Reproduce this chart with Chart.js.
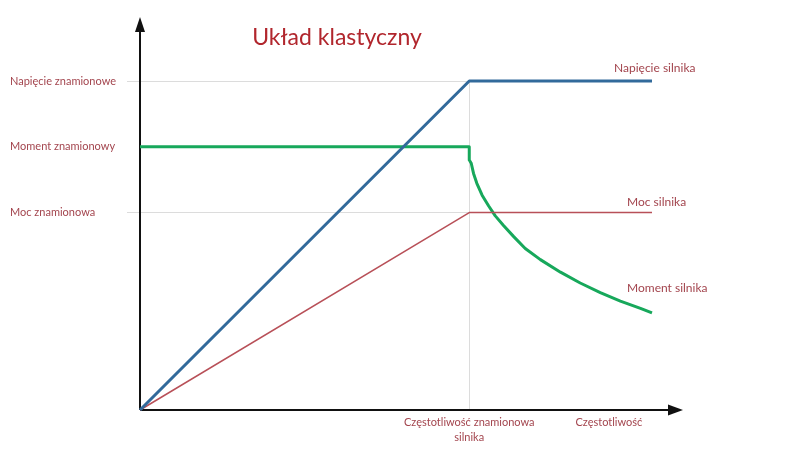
<!DOCTYPE html>
<html>
<head>
<meta charset="utf-8">
<script src="https://cdn.jsdelivr.net/npm/chart.js@4"></script>
<style>
  html, body { margin: 0; padding: 0; background: #fff; }
  #wrap { width: 800px; height: 475px; }
</style>
</head>
<body>
<div id="wrap"><canvas id="chart"></canvas></div>
<script>
'use strict';

// frequency axis (1 = rated frequency)
const freq = [0, 1, 1.555];
const voltage = [0, 1, 1];
const power = [0, 0.6, 0.6];

// torque: flat up to rated frequency, then falls off
const torqueFreq = [0, 1, 1, 1.006, 1.013, 1.023, 1.039, 1.059, 1.079, 1.104, 1.135, 1.17, 1.216, 1.277, 1.337, 1.398, 1.459, 1.52, 1.555];
const torque = [0.8, 0.8, 0.76, 0.75, 0.719, 0.689, 0.653, 0.62, 0.59, 0.561, 0.527, 0.491, 0.457, 0.419, 0.386, 0.357, 0.331, 0.309, 0.295];

const yTickValues = [0.6, 0.8, 1];
const yTickLabels = ['Moc znamionowa', 'Moment znamionowy', 'Napięcie znamionowe'];
const xTickValues = [1, 1.424];
const xTickLabels = [['Częstotliwość znamionowa', 'silnika'], 'Częstotliwość'];
const seriesNames = ['Napięcie silnika', 'Moc silnika', 'Moment silnika'];
const chartTitle = 'Układ klastyczny';

const textColor = '#a3454e';
const font = 'Lato';

function toPoints(xs, ys) {
  return xs.map((x, i) => ({ x: x, y: ys[i] }));
}

// draws arrow axes, title and series names
const decorations = {
  id: 'decorations',
  beforeDatasetsDraw(chart) {
    const ctx = chart.ctx;
    const a = chart.chartArea;
    ctx.save();
    ctx.strokeStyle = '#111';
    ctx.fillStyle = '#111';
    ctx.lineWidth = 2;
    ctx.beginPath();
    ctx.moveTo(a.left, a.bottom);
    ctx.lineTo(a.left, 30);
    ctx.moveTo(a.left, a.bottom);
    ctx.lineTo(670, a.bottom);
    ctx.stroke();
    ctx.beginPath();
    ctx.moveTo(a.left, 17);
    ctx.lineTo(a.left - 5, 32);
    ctx.lineTo(a.left + 5, 32);
    ctx.closePath();
    ctx.fill();
    ctx.beginPath();
    ctx.moveTo(683, a.bottom);
    ctx.lineTo(668, a.bottom - 5.5);
    ctx.lineTo(668, a.bottom + 5.5);
    ctx.closePath();
    ctx.fill();
    ctx.restore();
  },
  afterDatasetsDraw(chart) {
    const ctx = chart.ctx;
    const xs = chart.scales.x;
    const ys = chart.scales.y;
    ctx.save();
    ctx.fillStyle = '#b1262d';
    ctx.font = '23px ' + font;
    ctx.textAlign = 'center';
    ctx.textBaseline = 'middle';
    ctx.fillText(chartTitle, 337, 38);

    ctx.fillStyle = textColor;
    ctx.font = '12px ' + font;
    ctx.textAlign = 'left';
    const endX = xs.getPixelForValue(freq[freq.length - 1]);
    ctx.fillText(seriesNames[0], endX - 38, ys.getPixelForValue(voltage[voltage.length - 1]) - 13);
    ctx.fillText(seriesNames[1], endX - 25, ys.getPixelForValue(power[power.length - 1]) - 10);
    ctx.fillText(seriesNames[2], endX - 25, ys.getPixelForValue(torque[torque.length - 1]) - 25);
    ctx.restore();
  }
};

new Chart(document.getElementById('chart'), {
  type: 'line',
  data: {
    datasets: [
      {
        label: seriesNames[0],
        data: toPoints(freq, voltage),
        borderColor: '#326a9b',
        borderWidth: 3
      },
      {
        label: seriesNames[1],
        data: toPoints(freq, power),
        borderColor: '#b85058',
        borderWidth: 1.5
      },
      {
        label: seriesNames[2],
        data: toPoints(torqueFreq, torque),
        borderColor: '#17a85b',
        borderWidth: 3
      }
    ]
  },
  options: {
    responsive: true,
    maintainAspectRatio: false,
    animation: false,
    layout: { padding: { left: 10, top: 81, right: 148, bottom: 0 } },
    elements: {
      point: { radius: 0 },
      line: { tension: 0, borderCapStyle: 'butt', borderJoinStyle: 'round' }
    },
    datasets: { line: { clip: false } },
    plugins: {
      legend: { display: false },
      title: { display: false },
      tooltip: { enabled: false }
    },
    scales: {
      x: {
        type: 'linear',
        min: 0,
        max: 1.555,
        border: { display: false },
        afterBuildTicks(scale) {
          scale.ticks = xTickValues.map(v => ({ value: v }));
        },
        afterFit(scale) { scale.height = 65; },
        grid: {
          drawTicks: false,
          lineWidth: 1,
          color: ctx => (ctx.tick && ctx.tick.value === 1) ? '#dcdcdc' : 'transparent'
        },
        ticks: {
          padding: 5,
          color: textColor,
          font: { family: font, size: 11, lineHeight: 1.35 },
          maxRotation: 0,
          autoSkip: false,
          callback: (value) => xTickLabels[xTickValues.indexOf(value)]
        }
      },
      y: {
        type: 'linear',
        min: 0,
        max: 1,
        border: { display: false },
        afterBuildTicks(scale) {
          scale.ticks = yTickValues.map(v => ({ value: v }));
        },
        afterFit(scale) { scale.width = 130; },
        grid: {
          drawTicks: true,
          tickLength: 13,
          color: ctx => (ctx.tick && ctx.tick.value === 0.8) ? 'transparent' : '#dcdcdc'
        },
        ticks: {
          crossAlign: 'far',
          color: textColor,
          font: { family: font, size: 11 },
          autoSkip: false,
          callback: (value) => yTickLabels[yTickValues.indexOf(value)]
        }
      }
    }
  },
  plugins: [decorations]
});
</script>
</body>
</html>
